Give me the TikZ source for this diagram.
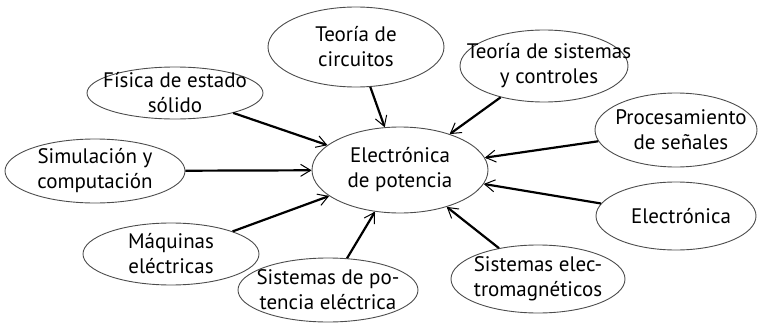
\documentclass[tikz,border=0pt]{standalone}
\usepackage{fontspec}
\setmainfont{PT Sans}
\usetikzlibrary{shapes.geometric,arrows.meta}

\begin{document}
\begin{tikzpicture}[%
  x=1pt,y=-1pt,
  bubble/.style={ellipse,draw=black!70,line width=0.9pt,inner sep=0pt},
  bubbleText/.style={align=center,inner sep=0pt,
    font=\fontsize{21}{25}\selectfont},
  feedArrow/.style={line width=2.2pt,
    -{Straight Barb[length=10pt,width=12pt,line width=1pt]}}
]
%
%
\useasboundingbox (0,0) rectangle (758,324);
%
% The central field.
\node[bubble,minimum width=176pt,minimum height=86pt,
  label={[bubbleText]center:Electrónica\\de potencia}] (pe) at (400,170) {};
%
% The fields around it.
\node[bubble,minimum width=176pt,minimum height=80pt,
  label={[bubbleText]center:Teoría de\\circuitos}] (circ) at (356,47) {};
\node[bubble,minimum width=176pt,minimum height=52pt,
  label={[bubbleText]center:Física de estado\\sólido}] (solid) at (175,93) {};
\node[bubble,minimum width=180pt,minimum height=64pt,
  label={[bubbleText]center:Simulación y\\computación}] (sim) at (95,171) {};
\node[bubble,minimum width=176pt,minimum height=62pt,
  label={[bubbleText]center:Máquinas\\eléctricas}] (maq) at (171,254) {};
\node[bubble,minimum width=180pt,minimum height=64pt,
  label={[bubbleText]center:Sistemas de po-\\tencia eléctrica}] (pot) at (328,290) {};
\node[bubble,minimum width=174pt,minimum height=68pt,
  label={[bubbleText]center:Sistemas elec-\\tromagnéticos}] (emag) at (538,279) {};
\node[bubble,minimum width=160pt,minimum height=68pt,
  label={[bubbleText,xshift=5pt]center:Electrónica}] (elec) at (676,216) {};
\node[bubble,minimum width=162pt,minimum height=74pt,
  label={[bubbleText,xshift=5pt]center:Procesamiento\\de señales}] (senal) at (676,130) {};
\node[bubble,minimum width=168pt,minimum height=72pt,
  label={[bubbleText,xshift=5pt]center:Teoría de sistemas\\y controles}] (ctrl) at (544,66) {};
%
% Every field feeds the central one.
\foreach \src in {circ,solid,sim,maq,pot,emag,elec,senal,ctrl}
  \draw[feedArrow] (\src) -- (pe);
\end{tikzpicture}
\end{document}
